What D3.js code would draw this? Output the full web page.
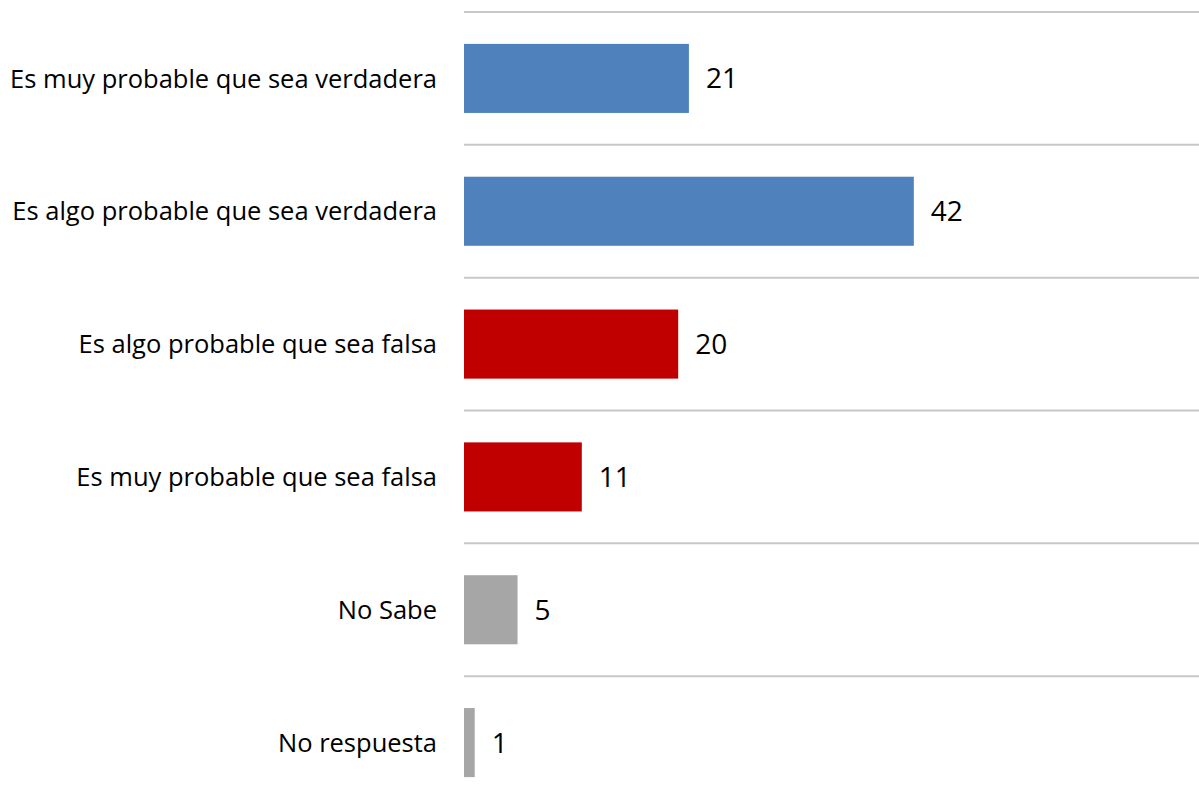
<!DOCTYPE html>
<html>
<head>
<meta charset="utf-8">
<style>
  body { margin: 0; background: #fff; }
  svg text { font-family: "Open Sans", "Noto Sans", sans-serif; fill: #000; }
</style>
</head>
<body>
<svg id="chart" width="1199" height="806"></svg>
<script src="https://cdn.jsdelivr.net/npm/d3@7/dist/d3.min.js"></script>
<script>
// data
var categories = [
  "Es muy probable que sea verdadera",
  "Es algo probable que sea verdadera",
  "Es algo probable que sea falsa",
  "Es muy probable que sea falsa",
  "No Sabe",
  "No respuesta"
];
var values = [21, 42, 20, 11, 5, 1];
var groups = ["true", "true", "false", "false", "none", "none"];

var colors = { "true": "#4f81bd", "false": "#c00000", "none": "#a6a6a6" };

var svg = d3.select("#chart"),
    margin = {top: 12, right: 0, bottom: 0, left: 464},
    width = +svg.attr("width") - margin.left - margin.right,
    g = svg.append("g").attr("transform", "translate(" + margin.left + "," + margin.top + ")");

var rows = categories.map(function(c, i) {
  return {cat: c, value: values[i], group: groups[i]};
});

// 10.71 px per unit -> domain max that fits the plot width
var x = d3.scaleLinear().domain([0, width / 10.71]).range([0, width]);
var y = d3.scaleBand().domain(categories).range([0, 797]).paddingInner(0.48).paddingOuter(0.24);

// horizontal gridlines between categories
var step = y.step();
g.append("g")
  .selectAll("line")
  .data(d3.range(categories.length + 1))
  .enter().append("line")
    .attr("x1", 0)
    .attr("x2", width)
    .attr("y1", function(i) { return i * step; })
    .attr("y2", function(i) { return i * step; })
    .attr("stroke", "#c8c8c8")
    .attr("stroke-width", 2);

g.selectAll(".bar")
  .data(rows)
  .enter().append("rect")
    .attr("class", "bar")
    .attr("x", 0)
    .attr("y", function(d) { return y(d.cat); })
    .attr("width", function(d) { return x(d.value); })
    .attr("height", y.bandwidth())
    .attr("fill", function(d) { return colors[d.group]; });

// value labels
g.selectAll(".val")
  .data(rows)
  .enter().append("text")
    .attr("class", "val")
    .attr("x", function(d) { return x(d.value) + 17; })
    .attr("y", function(d) { return y(d.cat) + y.bandwidth() / 2; })
    .attr("dy", "0.36em")
    .style("font-size", "28px")
    .text(function(d) { return d.value; });

// category labels
g.selectAll(".cat")
  .data(rows)
  .enter().append("text")
    .attr("class", "cat")
    .attr("x", -27)
    .attr("y", function(d) { return y(d.cat) + y.bandwidth() / 2; })
    .attr("dy", "0.36em")
    .attr("text-anchor", "end")
    .style("font-size", "25.5px")
    .text(function(d) { return d.cat; });
</script>
</body>
</html>
